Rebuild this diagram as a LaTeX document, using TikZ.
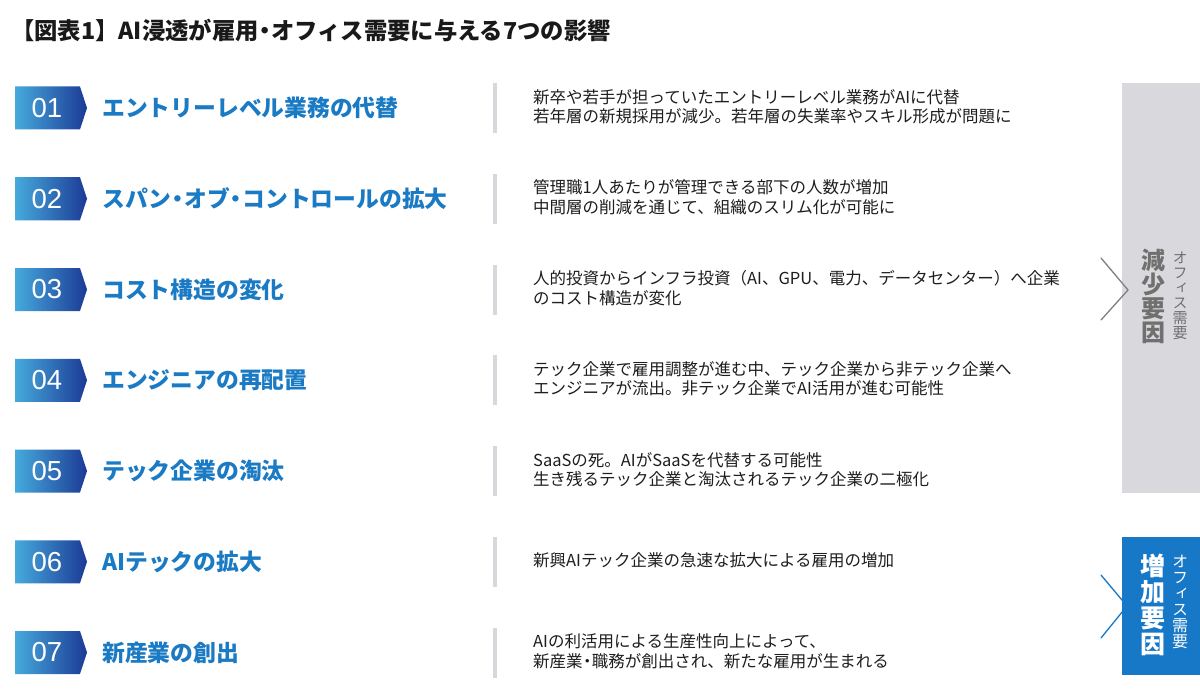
\documentclass[tikz,border=0pt]{standalone}
\usepackage{fontspec}
\setmainfont{Noto Sans CJK JP}
\newfontfamily\numfont{Liberation Sans}
\newfontfamily\jpvert{Noto Sans CJK JP}[RawFeature=+vert]
\newcommand\nkg{\makebox[0.55em][c]{・}}
\definecolor{titleblue}{RGB}{26,122,196}
\definecolor{boxblue}{RGB}{24,120,200}
\definecolor{badgeL}{RGB}{70,170,220}
\definecolor{badgeR}{RGB}{28,58,150}
\definecolor{barGray}{RGB}{216,216,220}
\definecolor{boxGray}{RGB}{217,217,221}
\definecolor{grayText}{RGB}{112,112,112}
\definecolor{descText}{RGB}{30,30,30}
\definecolor{chevGray}{RGB}{128,128,128}
\tikzset{
  badgeshade/.style={left color=badgeL, right color=badgeR, draw=none},
  numtext/.style={font=\numfont\fontsize{27.5}{27.5}\selectfont, text=white, inner sep=0pt},
  rowtitle/.style={anchor=west, font=\bfseries\fontsize{22.8}{24}\selectfont, text=titleblue, inner sep=0pt},
  desc/.style={anchor=west, align=left, font=\fontsize{16.5}{19.5}\selectfont, text=descText, inner sep=0pt},
  divbar/.style={fill=barGray, draw=none},
  sidebox/.style={anchor=north west, minimum width=78pt, inner sep=0pt, draw=none},
  bigvert/.style={font=\bfseries\jpvert\fontsize{24}{24}\selectfont, align=center, inner sep=0pt},
  smallvert/.style={font=\jpvert\fontsize{15}{15}\selectfont, align=center, inner sep=0pt},
  chev/.style={line width=1.3pt, line cap=round, line join=miter}
}
\newcommand\makerow[4]{%
  \pgfmathsetmacro\rowy{108+90.75*(#1-1)}%
  \shade[badgeshade] (15,\rowy-21.5) -- (80,\rowy-21.5) -- (87,\rowy) -- (80,\rowy+21.5) -- (15,\rowy+21.5) -- cycle;
  \node[numtext] (n#1) at (47,\rowy) {#2};
  \node[rowtitle] (t#1) at (102,\rowy) {#3};
  \fill[divbar] (493,\rowy-25) rectangle (497,\rowy+25);
  \node[desc] (d#1) at (533,\rowy-1.5) {#4};
}
\begin{document}
\begin{tikzpicture}[x=1pt,y=-1pt]
\path[use as bounding box, fill=white] (0,0) rectangle (1200,690);
\node[anchor=west, font=\bfseries\fontsize{23.3}{23.3}\selectfont, text=black!90, inner sep=0pt] (title) at (11,30) {【図表1】AI浸透が雇用\nkg オフィス需要に与える7つの影響};
\makerow{1}{01}{エントリーレベル業務の代替}{新卒や若手が担っていたエントリーレベル業務がAIに代替\\若年層の新規採用が減少。若年層の失業率やスキル形成が問題に}
\makerow{2}{02}{スパン\nkg オブ\nkg コントロールの拡大}{管理職1人あたりが管理できる部下の人数が増加\\中間層の削減を通じて、組織のスリム化が可能に}
\makerow{3}{03}{コスト構造の変化}{人的投資からインフラ投資（AI、GPU、電力、データセンター）へ企業\\のコスト構造が変化}
\makerow{4}{04}{エンジニアの再配置}{テック企業で雇用調整が進む中、テック企業から非テック企業へ\\エンジニアが流出。非テック企業でAI活用が進む可能性}
\makerow{5}{05}{テック企業の淘汰}{SaaSの死。AIがSaaSを代替する可能性\\生き残るテック企業と淘汰されるテック企業の二極化}
\makerow{6}{06}{AIテックの拡大}{新興AIテック企業の急速な拡大による雇用の増加}
\makerow{7}{07}{新産業の創出}{AIの利活用による生産性向上によって、\\新産業\nkg 職務が創出され、新たな雇用が生まれる}
% decrease factor
\node[sidebox, fill=boxGray, minimum height=410pt] (dec) at (1122,83) {};
\draw[chev, draw=chevGray] (1101,258) -- (1128,290) -- (1101,320);
\node[bigvert, text=grayText] (decbig) at (1153,296) {減\\少\\要\\因};
\node[smallvert, text=grayText] (decsmall) at (1180,296) {オ\\フ\\ィ\\ス\\需\\要};
% increase factor
\node[sidebox, fill=boxblue, minimum height=138pt] (inc) at (1122,537) {};
\draw[chev, draw=boxblue] (1101,575) -- (1127,606) -- (1101,638);
\node[bigvert, text=white, font=\bfseries\jpvert\fontsize{25}{26}\selectfont] (incbig) at (1153,605) {増\\加\\要\\因};
\node[smallvert, text=white, font=\jpvert\fontsize{16}{16}\selectfont] (incsmall) at (1180,602) {オ\\フ\\ィ\\ス\\需\\要};
\end{tikzpicture}
\end{document}
